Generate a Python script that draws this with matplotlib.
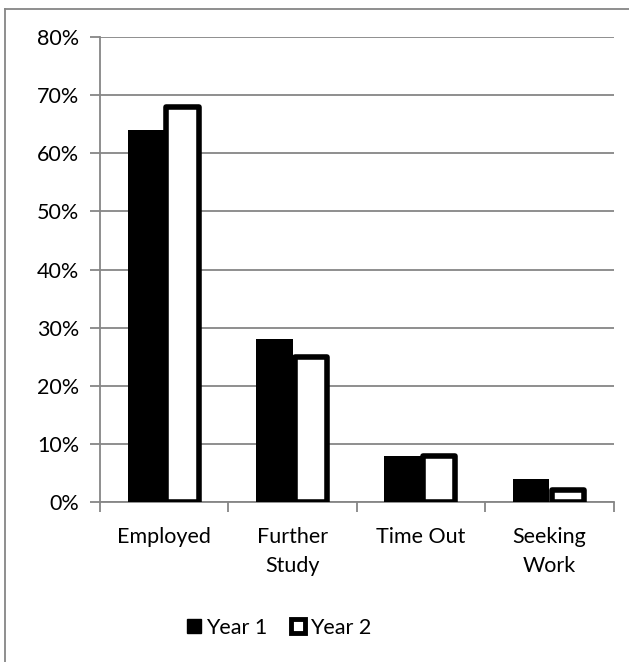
import numpy as np
import matplotlib.pyplot as plt
from matplotlib.patches import Patch
from matplotlib.lines import Line2D

plt.rcParams['font.family'] = ['Lato', 'DejaVu Sans']

categories = ['Employed', 'Further\nStudy', 'Time Out', 'Seeking\nWork']
year1 = [64, 28, 8, 4]
year2 = [68, 25, 8, 2]
yticks = [0, 10, 20, 30, 40, 50, 60, 70, 80]

grid_col = '#868686'
fs = 15.5

fig = plt.figure(figsize=(6.29, 6.62), dpi=100)
ax = fig.add_axes([0.159, 0.2417, 0.8165, 0.7023])

x = np.arange(len(categories))
w = 1 / 3.5
ax.bar(x - w / 2, year1, w, color='black', edgecolor='black', linewidth=0, zorder=3)
ax.bar(x + w / 2, year2, w * 0.88, color='white', edgecolor='black', linewidth=4,
       joinstyle='round', zorder=3)

ax.set_xlim(-0.5, len(categories) - 0.5)
ax.set_ylim(0, 80)
ax.set_yticks(yticks)
ax.set_yticklabels([f'{v}%' for v in yticks], fontsize=fs)
ax.yaxis.grid(True, color=grid_col, linewidth=1.3, zorder=0)
ax.tick_params(axis='y', length=7, color=grid_col, width=1.3, pad=8)

ax.set_xticks(x)
ax.set_xticklabels(categories, fontsize=fs, linespacing=1.55)
ax.tick_params(axis='x', length=0, pad=18)
ax.set_xticks(np.arange(len(categories) + 1) - 0.5, minor=True)
ax.tick_params(axis='x', which='minor', length=7, color=grid_col, width=1.3)

for side in ['top', 'right']:
    ax.spines[side].set_visible(False)
for side in ['left', 'bottom']:
    ax.spines[side].set_color(grid_col)
    ax.spines[side].set_linewidth(1.3)

handles = [Patch(facecolor='black', edgecolor='black', label='Year 1'),
           Patch(facecolor='white', edgecolor='black', linewidth=3.5,
                 joinstyle='round', label='Year 2')]
fig.legend(handles=handles, loc='center', bbox_to_anchor=(0.444, 0.052), ncol=2,
           frameon=False, fontsize=fs, handlelength=0.65, handleheight=0.65,
           handletextpad=0.25, columnspacing=1.1)

# chart frame: only the top and left edges fall inside the figure
fig.add_artist(Line2D([5 / 629, 5 / 629], [0, 1 - 9 / 662], transform=fig.transFigure,
                      color=grid_col, linewidth=1.3))
fig.add_artist(Line2D([5 / 629, 1], [1 - 9 / 662, 1 - 9 / 662], transform=fig.transFigure,
                      color=grid_col, linewidth=1.3))

fig.savefig('out.png', dpi=100)
